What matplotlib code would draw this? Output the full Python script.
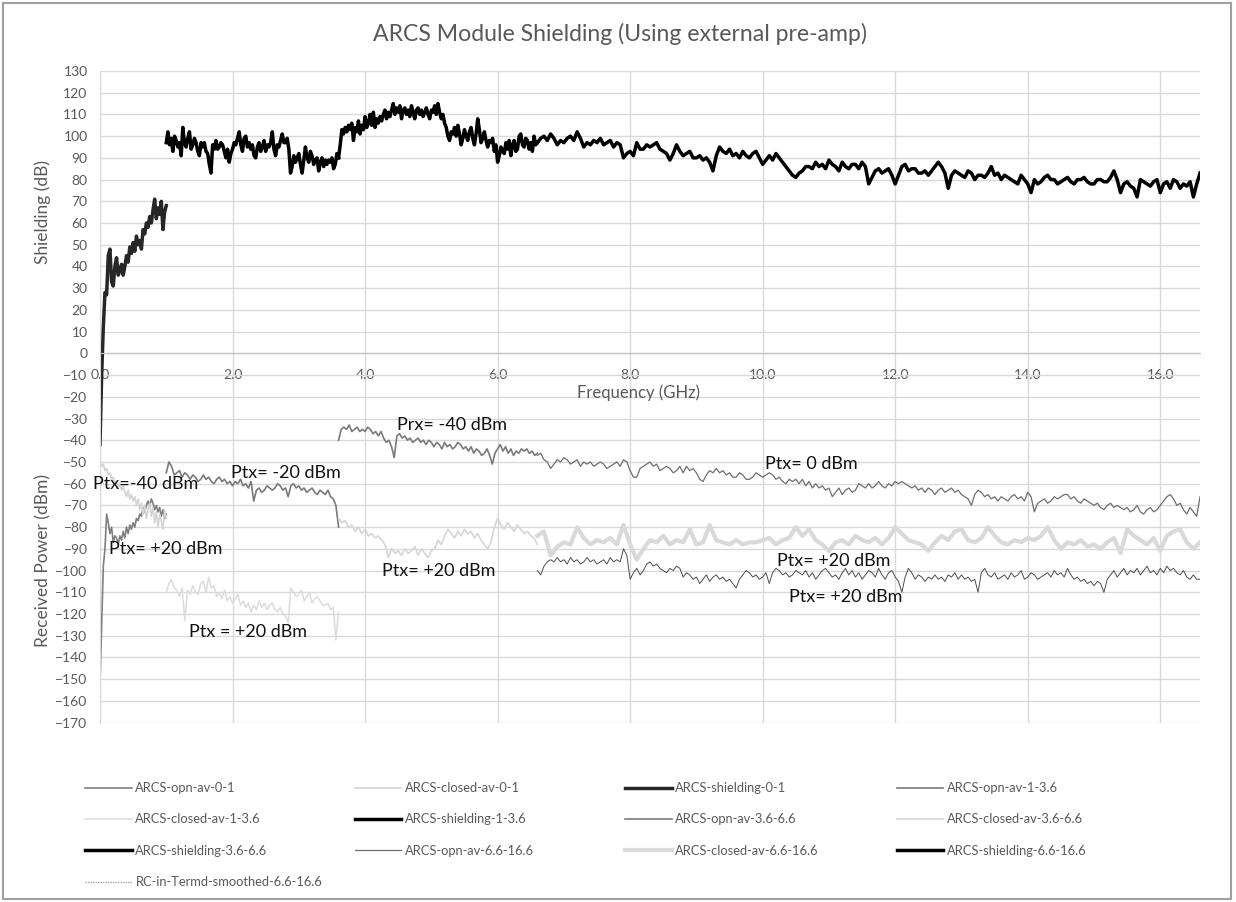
import numpy as np
import matplotlib.pyplot as plt
from matplotlib.lines import Line2D
from matplotlib.patches import Rectangle

plt.rcParams["font.family"] = ["Lato", "DejaVu Sans"]

TEXT_GRAY = "#595959"

# frequency bands (GHz), every series is sampled evenly over its band
BAND_0_1 = (0.0, 1.0)
BAND_1_36 = (1.0, 3.6)
BAND_36_66 = (3.6, 6.6)
BAND_66_166 = (6.6, 16.6)

# ---- received power (dBm) ----
opn_av_0_1 = [
    -152, -125, -98, -90, -74, -78, -83, -80, -87, -84,
    -85, -88, -84, -86, -82, -85, -80, -83, -79, -81,
    -78, -80, -76, -77, -74, -75, -71, -73, -70, -68,
    -70, -67, -69, -72, -70, -73, -71, -75, -72, -76,
    -74,
]
closed_av_0_1 = [
    -50, -52, -51, -54, -53, -56, -55, -58, -57, -60,
    -59, -62, -60, -63, -61, -64, -66, -63, -67, -65,
    -68, -66, -70, -67, -72, -69, -74, -70, -76, -72,
    -69, -75, -71, -78, -73, -80, -74, -77, -81, -72,
    -76,
]
opn_av_1_36 = [
    -55, -50, -52, -56, -55, -54, -57, -55, -56, -58,
    -56, -57, -59, -58, -56, -58, -57, -59, -60, -58,
    -57, -59, -58, -60, -59, -61, -59, -60, -58, -61,
    -60, -62, -59, -68, -63, -62, -64, -63, -61, -62,
    -63, -62, -60, -61, -63, -62, -66, -61, -60, -62,
    -61, -63, -62, -64, -63, -62, -64, -65, -63, -64,
    -65, -63, -66, -67, -70, -80,
]
closed_av_1_36 = [
    -110, -106, -104, -108, -109, -112, -108, -123, -109, -111,
    -107, -110, -111, -106, -105, -110, -103, -108, -107, -112,
    -110, -113, -109, -114, -112, -115, -113, -111, -116, -114,
    -117, -115, -119, -116, -118, -114, -117, -115, -118, -116,
    -115, -118, -119, -117, -120, -121, -124, -108, -110, -112,
    -111, -109, -114, -112, -110, -115, -113, -112, -114, -116,
    -116, -115, -118, -117, -132, -119,
]
opn_av_36_66 = [
    -40, -35, -34, -35, -33, -36, -35, -34, -36, -35,
    -36, -34, -35, -37, -36, -38, -36, -39, -41, -40,
    -43, -48, -38, -37, -39, -38, -40, -39, -41, -40,
    -39, -41, -40, -42, -40, -41, -43, -41, -42, -44,
    -41, -43, -42, -44, -43, -41, -42, -44, -43, -45,
    -43, -46, -44, -45, -47, -46, -44, -47, -51, -46,
    -44, -42, -45, -43, -46, -44, -47, -45, -46, -44,
    -45, -44, -46, -45, -47, -46,
]
closed_av_36_66 = [
    -76, -78, -77, -80, -79, -82, -80, -83, -81, -84,
    -83, -85, -84, -86, -88, -94, -90, -92, -91, -93,
    -90, -92, -91, -89, -93, -90, -92, -94, -91, -90,
    -86, -88, -84, -81, -83, -85, -82, -84, -81, -83,
    -82, -85, -83, -86, -88, -90, -87, -80, -76, -79,
    -81, -78, -80, -82, -79, -81, -83, -82, -84, -85,
    -88,
]
opn_av_66_166 = [
    -47, -46, -49, -50, -53, -51, -49, -50, -48, -49,
    -51, -50, -49, -52, -50, -51, -50, -52, -51, -50,
    -51, -53, -52, -51, -50, -52, -49, -50, -54, -57,
    -57, -53, -52, -51, -50, -52, -51, -54, -53, -52,
    -53, -55, -54, -52, -55, -52, -54, -53, -55, -58,
    -59, -56, -54, -55, -53, -55, -54, -56, -55, -57,
    -57, -55, -56, -58, -58, -57, -55, -56, -57, -56,
    -55, -56, -58, -57, -59, -60, -58, -59, -58, -60,
    -58, -61, -59, -62, -60, -62, -61, -63, -62, -66,
    -64, -62, -65, -63, -62, -64, -63, -60, -61, -62,
    -60, -62, -61, -59, -61, -62, -60, -61, -59, -60,
    -59, -60, -61, -62, -61, -63, -62, -64, -62, -63,
    -65, -63, -62, -64, -63, -62, -64, -63, -65, -66,
    -67, -70, -65, -63, -64, -66, -65, -67, -66, -68,
    -66, -67, -68, -66, -65, -67, -66, -68, -64, -66,
    -73, -69, -68, -67, -69, -68, -66, -67, -66, -65,
    -65, -67, -66, -68, -69, -67, -68, -69, -70, -69,
    -71, -72, -70, -69, -71, -70, -71, -72, -71, -73,
    -72, -70, -73, -74, -72, -71, -73, -72, -70, -68,
    -66, -65, -67, -70, -69, -72, -74, -71, -73, -75,
    -66,
]
closed_av_66_166 = [
    -84, -82, -93, -89, -87, -88, -80, -85, -88, -86,
    -87, -85, -88, -79, -88, -95, -90, -86, -87, -84,
    -88, -86, -87, -81, -88, -87, -79, -86, -87, -88,
    -86, -88, -87, -87, -86, -85, -88, -86, -85, -80,
    -84, -81, -86, -88, -91, -87, -86, -88, -84, -86,
    -87, -85, -88, -85, -80, -83, -86, -87, -88, -91,
    -87, -84, -86, -82, -81, -86, -87, -85, -80, -84,
    -87, -88, -86, -87, -85, -86, -84, -80, -86, -90,
    -87, -88, -86, -89, -88, -90, -87, -85, -92, -81,
    -84, -86, -88, -85, -91, -84, -82, -81, -87, -90,
    -87,
]
rc_in_termd_66_166 = [
    -100, -102, -98, -96, -95, -96, -94, -96, -95, -97,
    -94, -96, -95, -97, -96, -94, -96, -95, -97, -96,
    -95, -97, -94, -96, -95, -96, -90, -93, -104, -101,
    -99, -102, -100, -97, -96, -98, -97, -99, -100, -101,
    -99, -100, -98, -99, -103, -101, -102, -104, -103, -106,
    -104, -102, -105, -103, -102, -104, -103, -105, -104, -106,
    -108, -104, -102, -100, -101, -103, -102, -104, -103, -101,
    -106, -101, -99, -100, -102, -101, -103, -102, -100, -101,
    -102, -100, -103, -101, -104, -102, -100, -99, -101, -103,
    -102, -104, -101, -99, -102, -100, -103, -101, -104, -102,
    -100, -101, -103, -99, -102, -104, -101, -100, -103, -105,
    -110, -103, -99, -101, -104, -102, -103, -105, -103, -104,
    -102, -104, -103, -105, -102, -103, -101, -104, -102, -104,
    -103, -105, -104, -110, -101, -99, -102, -103, -101, -104,
    -103, -102, -104, -101, -103, -102, -100, -104, -103, -101,
    -102, -104, -103, -102, -101, -103, -100, -102, -101, -103,
    -99, -102, -104, -103, -105, -104, -106, -105, -107, -105,
    -106, -110, -104, -102, -100, -103, -101, -99, -102, -100,
    -101, -99, -102, -100, -98, -101, -100, -102, -99, -101,
    -98, -100, -99, -101, -102, -100, -103, -104, -102, -104,
    -104,
]

# ---- shielding (dB) ----
shielding_0_1 = [
    -42, -10, 12, 28, 27, 45, 48, 33, 31, 40,
    44, 36, 38, 41, 36, 40, 45, 42, 49, 46,
    51, 47, 54, 50, 52, 48, 57, 55, 60, 58,
    63, 60, 66, 71, 62, 67, 64, 70, 57, 65,
    68,
]
shielding_1_36 = [
    97, 102, 96, 99, 93, 100, 98, 95, 97, 91,
    104, 97, 95, 99, 102, 94, 96, 99, 97, 93,
    91, 97, 95, 97, 93, 92, 87, 83, 96, 94,
    98, 94, 95, 97, 96, 93, 90, 94, 88, 92,
    94, 97, 96, 99, 102, 96, 93, 99, 100, 95,
    97, 94, 96, 91, 90, 95, 97, 93, 95, 98,
    93, 96, 95, 97, 102, 94, 91, 96, 95, 98,
    101, 97, 97, 99, 94, 83, 86, 91, 88, 90,
    92, 87, 83, 89, 95, 90, 88, 93, 91, 87,
    89, 90, 84, 88, 90, 86, 89, 87, 89, 88,
    90, 85, 87, 92, 90,
]
shielding_36_66 = [
    90, 96, 103, 101, 104, 102, 105, 103, 106, 98,
    104, 102, 107, 101, 105, 103, 109, 104, 106, 110,
    105, 111, 104, 108, 106, 109, 107, 110, 112, 108,
    111, 109, 112, 115, 110, 113, 111, 114, 108, 112,
    113, 110, 112, 109, 114, 111, 108, 112, 113, 110,
    112, 109, 111, 113, 110, 108, 112, 111, 114, 110,
    115, 111, 108, 110, 106, 104, 100, 98, 102, 101,
    104, 100, 105, 101, 96, 99, 103, 100, 98, 102,
    104, 99, 96, 101, 108, 103, 97, 99, 102, 98,
    95, 98, 97, 99, 93, 96, 88, 91, 95, 93,
    92, 97, 94, 98, 91, 96, 98, 93, 94, 100,
    101, 96, 95, 99, 98, 94, 97, 93, 100, 96,
    97,
]
shielding_66_166 = [
    97, 99, 100, 98, 101, 99, 96, 98, 97, 99,
    100, 98, 102, 99, 95, 97, 96, 98, 97, 99,
    96, 97, 98, 95, 97, 96, 90, 92, 93, 91,
    97, 94, 94, 96, 95, 96, 97, 94, 93, 92,
    89, 92, 96, 93, 91, 92, 93, 90, 90, 91,
    89, 90, 88, 84, 91, 95, 93, 92, 94, 91,
    92, 90, 93, 91, 90, 92, 93, 90, 87, 89,
    91, 89, 92, 90, 88, 86, 84, 82, 81, 83,
    84, 86, 86, 85, 88, 86, 87, 85, 89, 87,
    86, 84, 88, 86, 85, 87, 87, 85, 88, 86,
    78, 81, 84, 85, 83, 84, 85, 82, 78, 82,
    86, 87, 84, 85, 85, 83, 83, 84, 82, 84,
    86, 88, 86, 83, 76, 82, 84, 83, 82, 81,
    84, 83, 80, 82, 82, 81, 83, 86, 82, 83,
    80, 82, 81, 80, 79, 78, 82, 80, 78, 74,
    80, 78, 79, 81, 82, 80, 80, 78, 79, 80,
    81, 79, 78, 80, 80, 81, 79, 78, 78, 80,
    80, 79, 79, 81, 84, 80, 74, 78, 79, 77,
    76, 72, 80, 79, 78, 77, 79, 80, 74, 78,
    79, 76, 80, 79, 76, 78, 77, 79, 72, 78,
    83,
]

# label, band, values, color, linewidth (drawn in Excel series order)
SERIES = [
    ("ARCS-opn-av-0-1", BAND_0_1, opn_av_0_1, "#7f7f7f", 1.2),
    ("ARCS-closed-av-0-1", BAND_0_1, closed_av_0_1, "#d4d4d4", 1.2),
    ("ARCS-shielding-0-1", BAND_0_1, shielding_0_1, "#262626", 2.5),
    ("ARCS-opn-av-1-3.6", BAND_1_36, opn_av_1_36, "#7a7a7a", 1.2),
    ("ARCS-closed-av-1-3.6", BAND_1_36, closed_av_1_36, "#dcdcdc", 1.1),
    ("ARCS-shielding-1-3.6", BAND_1_36, shielding_1_36, "#000000", 2.5),
    ("ARCS-opn-av-3.6-6.6", BAND_36_66, opn_av_36_66, "#7a7a7a", 1.2),
    ("ARCS-closed-av-3.6-6.6", BAND_36_66, closed_av_36_66, "#d6d6d6", 1.2),
    ("ARCS-shielding-3.6-6.6", BAND_36_66, shielding_36_66, "#000000", 2.5),
    ("ARCS-opn-av-6.6-16.6", BAND_66_166, opn_av_66_166, "#6e6e6e", 0.9),
    ("ARCS-closed-av-6.6-16.6", BAND_66_166, closed_av_66_166, "#d9d9d9", 3.0),
    ("ARCS-shielding-6.6-16.6", BAND_66_166, shielding_66_166, "#000000", 2.5),
    ("RC-in-Termd-smoothed-6.6-16.6", BAND_66_166, rc_in_termd_66_166, "#4d4d4d", 0.7),
]

ANNOTATIONS = [
    ("Prx= -40 dBm", 4.48, -33),
    ("Ptx= 0 dBm", 10.04, -51),
    ("Ptx= -20 dBm", 1.98, -55),
    ("Ptx=-40 dBm", -0.10, -60),
    ("Ptx= +20 dBm", 0.14, -90),
    ("Ptx= +20 dBm", 4.26, -100),
    ("Ptx= +20 dBm", 10.22, -95.5),
    ("Ptx= +20 dBm", 10.40, -112),
    ("Ptx = +20 dBm", 1.34, -128.5),
]

X_TICKS = [0, 2, 4, 6, 8, 10, 12, 14, 16]
Y_TICKS = list(range(-170, 131, 10))


def band_freqs(band, values):
    return np.linspace(band[0], band[1], len(values))


def main():
    fig = plt.figure(figsize=(12.36, 9.02), dpi=100)
    ax = fig.add_axes([0.0809, 0.1989, 0.8900, 0.7224])

    handles = []
    for label, band, values, color, lw in SERIES:
        (line,) = ax.plot(band_freqs(band, values), values, color=color, lw=lw,
                          label=label, solid_joinstyle="round")
        handles.append(line)

    # the smoothed RC trace shows up dotted in the legend
    handles[-1] = Line2D([], [], color="#a6a6a6", lw=0.9, ls=(0, (1.2, 0.8)),
                         label=SERIES[-1][0])

    for text, x, y in ANNOTATIONS:
        ax.text(x, y, text, fontsize=13, color="#111111", ha="left", va="center")

    ax.set_xlim(0, 16.6)
    ax.set_ylim(-170, 130)
    ax.set_xticks(X_TICKS)
    ax.set_xticklabels([f"{t:.1f}" for t in X_TICKS])
    ax.set_yticks(Y_TICKS)
    ax.grid(True, color="#d9d9d9", lw=1.0)
    ax.set_axisbelow(True)

    ax.spines["top"].set_visible(False)
    ax.spines["right"].set_visible(False)
    ax.spines["left"].set_color("#d9d9d9")
    ax.spines["bottom"].set_position(("data", 0))
    ax.spines["bottom"].set_color("#bfbfbf")
    ax.tick_params(axis="both", length=0, colors=TEXT_GRAY, labelsize=10)
    ax.tick_params(axis="x", pad=11)
    ax.tick_params(axis="y", pad=9)

    ax.text(8.12, -18.3, "Frequency (GHz)", fontsize=12, color=TEXT_GRAY,
            ha="center", va="center")

    fig.text(0.0348, 0.765, "Shielding (dB)", rotation=90, fontsize=12.5,
             color=TEXT_GRAY, ha="center", va="center")
    fig.text(0.0348, 0.379, "Received Power (dBm)", rotation=90, fontsize=12.5,
             color=TEXT_GRAY, ha="center", va="center")
    fig.text(0.5016, 0.962, "ARCS Module Shielding (Using external pre-amp)",
             fontsize=16.6, color=TEXT_GRAY, ha="center", va="center")

    # Excel fills the legend row by row, so one legend per column
    col_x = [0.0688, 0.2872, 0.5057, 0.7257]
    for i, x in enumerate(col_x):
        fig.legend(handles=handles[i::4], loc="upper left",
                   bbox_to_anchor=(x, 0.133), frameon=False, fontsize=9.3,
                   handlelength=3.6, handletextpad=0.3, labelspacing=1.5,
                   borderpad=0, borderaxespad=0, labelcolor=TEXT_GRAY)

    fig.patches.append(Rectangle((0.0024, 0.0033), 0.9936, 0.9934,
                                 transform=fig.transFigure, fill=False,
                                 edgecolor="#a0a0a0", lw=1.5))

    fig.savefig("out.png", dpi=100)
    plt.close(fig)


if __name__ == "__main__":
    main()
